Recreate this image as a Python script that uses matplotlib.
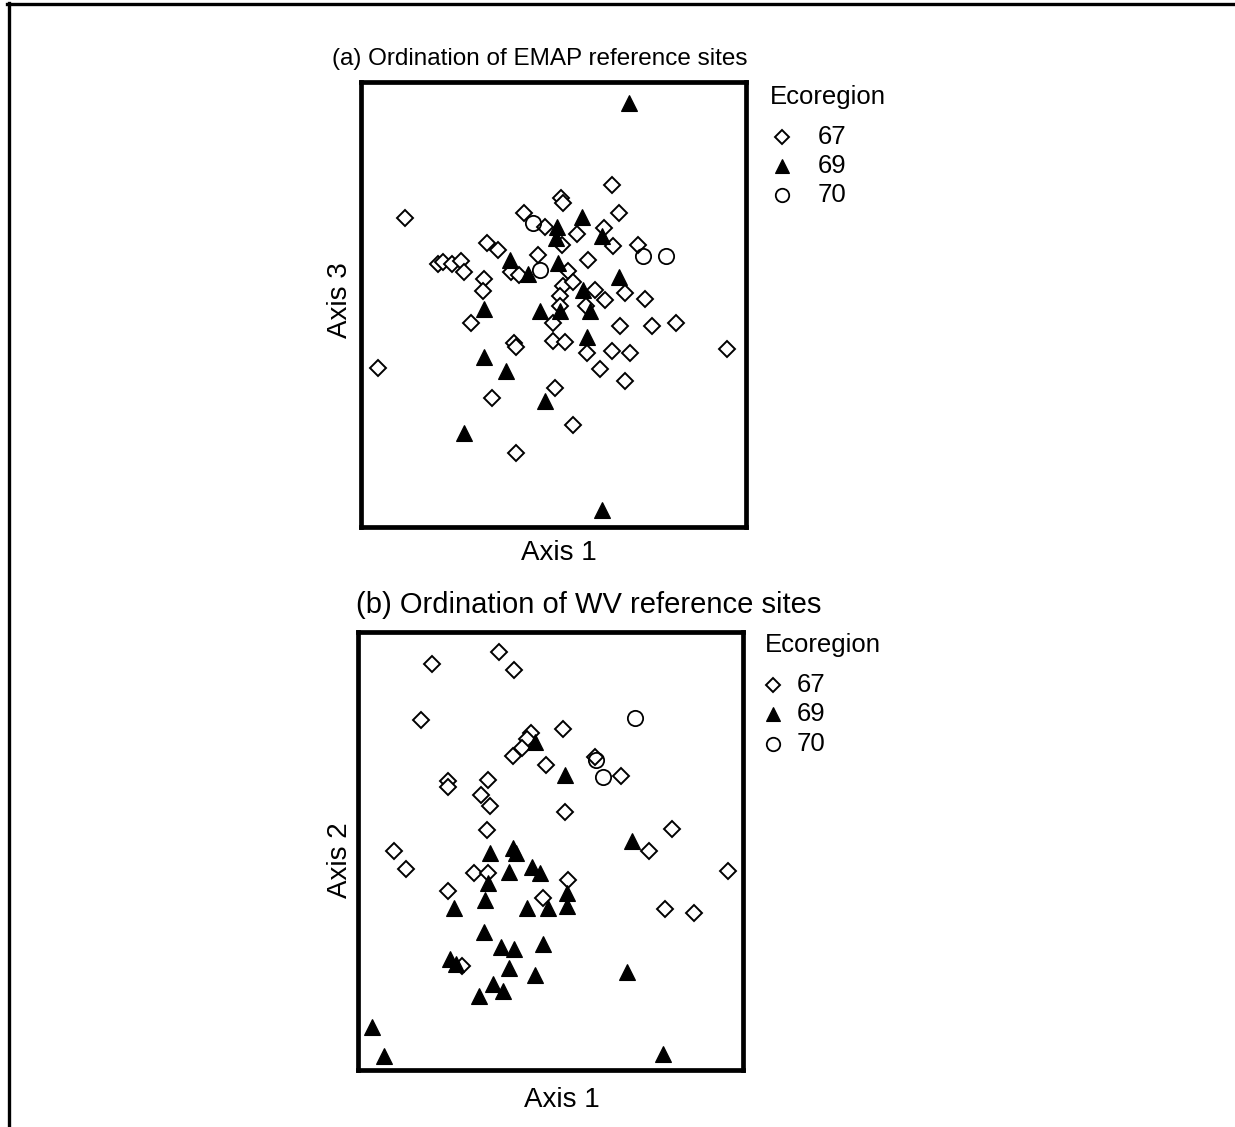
import matplotlib
matplotlib.use("Agg")
import matplotlib.pyplot as plt
from matplotlib.lines import Line2D

plt.rcParams['font.family'] = ['Liberation Sans', 'DejaVu Sans']

# ---------------- data (ordination scores, arbitrary units) ----------------
# Panel (a): EMAP reference sites, Axis 1 vs Axis 3
emap_67_ax1 = [250.7, 199.7, 202.3, 44, 163, 184, 257.7, 200.7, 215.7, 242.7, 252.3, 277.3,
               126.3, 136.5, 176.8, 227.3, 77.3, 82.3, 90.7, 100, 103.3, 150, 158.3, 207.3,
               123.2, 121.7, 202.3, 212, 234, 264, 284.3, 199, 244, 198.5, 225.3, 109.7,
               192.3, 259, 291.3, 315, 153, 155, 191.7, 204, 225.7, 250.7, 269, 365.7,
               16.7, 239, 264, 193.7, 131.3, 212.3, 155]
emap_67_ax3 = [342, 328.7, 324.5, 308.7, 314.3, 300.3, 314, 282, 293, 299.2, 280.7, 281.7,
               284.3, 277, 272.3, 266.7, 263, 265.3, 263, 266.3, 255.3, 255.3, 252, 256.2,
               247.7, 236, 241.5, 245.3, 237.5, 234.5, 227.8, 231, 226.7, 221, 221.5, 204.3,
               204.3, 201, 201, 204.3, 183.7, 179.7, 186.3, 184.7, 174.3, 176.3, 174.3, 177.7,
               158.7, 158.3, 146.3, 139, 128.7, 102, 73.7]
emap_69_ax1 = [268.3, 220.7, 195.7, 195.3, 240.7, 148.5, 197.3, 167.3, 258.2, 222.3,
               123, 179, 199, 229, 225.7, 123, 144.7, 184, 103, 241]
emap_69_ax3 = [423.7, 310.3, 300.3, 288.7, 290.7, 267, 264, 253.3, 250, 237.5,
               217.7, 216.3, 216.3, 216.3, 189.7, 170.3, 156.3, 126.3, 94.3, 17]
emap_70_ax1 = [172.3, 282.3, 305, 179]
emap_70_ax3 = [304.3, 270.7, 271, 257]

# Panel (b): WV reference sites, Axis 1 vs Axis 2
wv_67_ax1 = [141.3, 73.7, 156, 63.3, 205.3, 172.5, 169, 163.7, 154.7, 188, 237.5, 263.3,
             90, 90, 130.3, 123.3, 132, 207, 128.7, 313.7, 291.3, 36, 48, 116, 130.3,
             209.7, 370.3, 89.7, 185.3, 306.7, 336, 103.7]
wv_67_ax2 = [418.3, 406, 400, 350, 341.3, 337, 331.3, 322.5, 314.5, 304.7, 313.3, 294,
             289, 283.3, 290.3, 275, 264.3, 258.5, 240.5, 241, 219.5, 219.5, 200.7, 197.3, 196.7,
             190.3, 199.3, 179.3, 171.7, 160.7, 157.3, 104.2]
wv_69_ax1 = [176.7, 207, 273.7, 132, 154.7, 158, 130.3, 150.7, 173.7, 182, 208.7, 208.7,
             95.7, 127.3, 169.3, 189.7, 126, 143.3, 156.2, 185.3, 92, 98, 150.7, 176.7,
             269.3, 134.7, 144.7, 121.3, 14.3, 26.3, 305.3]
wv_69_ax2 = [328.3, 294.7, 229.2, 217.3, 221.7, 217.3, 187.3, 198.3, 203.3, 196.7, 176.7, 164,
             162.5, 170, 162.5, 162.5, 138.3, 122.7, 120.7, 126.3, 110.7, 105.8, 102, 95,
             98.3, 86, 79.2, 74, 42.7, 14, 15.7]
wv_70_ax1 = [277, 237.7, 245]
wv_70_ax2 = [352.3, 310.3, 293.3]

legend_title = "Ecoregion"
legend_labels = ["67", "69", "70"]

# ---------------- figure ----------------
W, H = 1235, 1127
fig = plt.figure(figsize=(W / 100, H / 100), dpi=100)


def fx(x):
    return x / W


def fy(y):
    return 1 - y / H


diamond = dict(marker='D', ms=8.5, mfc='white', mec='black', mew=1.4, ls='none')
triangle = dict(marker='^', ms=11, mfc='black', mec='black', mew=0.8, ls='none')
circle = dict(marker='o', ms=11, mfc='none', mec='black', mew=1.3, ls='none')

FS_TA = 17.5   # title (a)
FS_TB = 21     # title (b)
FS_AX = 20     # axis labels
FS_LG = 18.5   # legend text


def make_axes(left, top, right, bottom):
    ax = fig.add_axes([fx(left), fy(bottom), fx(right) - fx(left), (bottom - top) / H])
    for s in ax.spines.values():
        s.set_linewidth(3.4)
        s.set_color('black')
    ax.set_xticks([])
    ax.set_yticks([])
    return ax


# Panel (a)
axa = make_axes(361, 82, 746, 527)
axa.plot(emap_67_ax1, emap_67_ax3, **diamond, zorder=2)
axa.plot(emap_69_ax1, emap_69_ax3, **triangle, zorder=3)
axa.plot(emap_70_ax1, emap_70_ax3, **circle, zorder=4)
axa.set_xlim(0, 385)
axa.set_ylim(0, 445)

# Panel (b)
axb = make_axes(358, 632, 743, 1070)
axb.plot(wv_67_ax1, wv_67_ax2, **diamond, zorder=2)
axb.plot(wv_69_ax1, wv_69_ax2, **triangle, zorder=3)
axb.plot(wv_70_ax1, wv_70_ax2, **circle, zorder=4)
axb.set_xlim(0, 385)
axb.set_ylim(0, 438)

# Titles and axis labels
fig.text(fx(332), fy(65), "(a) Ordination of EMAP reference sites", fontsize=FS_TA,
         ha='left', va='baseline')
fig.text(fx(356), fy(613), "(b) Ordination of WV reference sites", fontsize=FS_TB,
         ha='left', va='baseline')
fig.text(fx(559), fy(553), "Axis 1", fontsize=FS_AX, ha='center', va='center')
fig.text(fx(562), fy(1100), "Axis 1", fontsize=FS_AX, ha='center', va='center')
fig.text(fx(340), fy(300), "Axis 3", fontsize=FS_AX, ha='center', va='center', rotation=90)
fig.text(fx(340), fy(860), "Axis 2", fontsize=FS_AX, ha='center', va='center', rotation=90)

# Legends (drawn manually)
styles = [diamond, triangle, circle]


def draw_legend(tx, ty, mx, lx, rows):
    fig.text(fx(tx), fy(ty), legend_title, fontsize=FS_LG, ha='left', va='center')
    for lab, st, ry in zip(legend_labels, styles, rows):
        kw = dict(st)
        kw['ms'] = kw['ms'] * 0.88
        fig.add_artist(Line2D([fx(mx)], [fy(ry)], transform=fig.transFigure, **kw))
        fig.text(fx(lx), fy(ry), lab, fontsize=FS_LG, ha='left', va='center')


draw_legend(770, 97, 782, 818, [137, 166, 195])
draw_legend(765, 645, 773, 797, [685, 714, 744])

# outer frame (top and left edges)
fig.add_artist(Line2D([fx(7), fx(1235)], [fy(4), fy(4)], transform=fig.transFigure,
                      color='black', lw=2.4))
fig.add_artist(Line2D([fx(9), fx(9)], [fy(3), fy(1127)], transform=fig.transFigure,
                      color='black', lw=2.4))

fig.savefig("out.png", dpi=100)
